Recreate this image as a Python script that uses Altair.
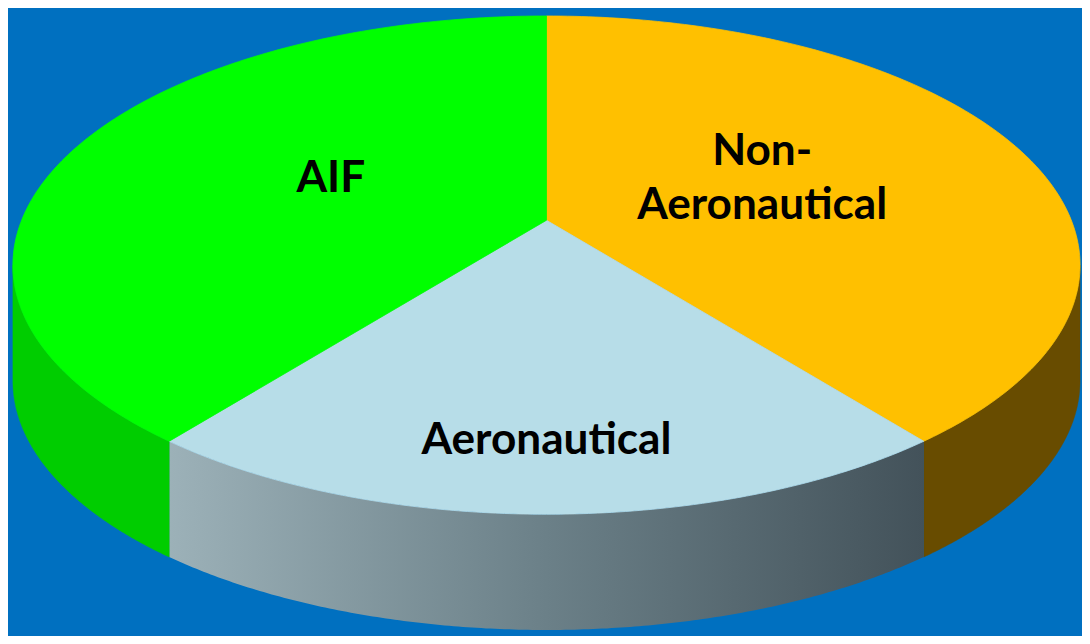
import altair as alt
import pandas as pd
import numpy as np

# ---- data (shares in %) ----
categories = ["Non-Aeronautical", "Aeronautical", "AIF"]
labels = ["Non-\nAeronautical", "Aeronautical", "AIF"]
shares = [37.5, 25.0, 37.5]
top_colors = ["#FFC000", "#B7DDE8", "#00FF00"]

# ---- style / geometry constants ----
W, H = 1074, 628            # plot size (px)
A_PX, B_PX = 544, 254       # ellipse semi-axes (px)
CX_PX, CY_PX = 549, 256     # ellipse centre inside plot (px)
DEPTH = 118 / B_PX          # wall height in ellipse units
VX, VY = 0.0, 0.18          # apex of slices (perspective lift)
LABEL_D = 224               # label distance from apex (px)
LINE_H = 55
N = 181

xs = alt.Scale(domain=[-CX_PX / A_PX, (W - CX_PX) / A_PX], range=[0, W], nice=False, zero=False)
ys = alt.Scale(domain=[-(H - CY_PX) / B_PX, CY_PX / B_PX], range=[H, 0], nice=False, zero=False)

ends = list(np.cumsum(shares))
starts = [e - s for e, s in zip(ends, shares)]

# parametric table (t runs along each slice's rim)
rows = []
for c, s, e in zip(categories, starts, ends):
    for k in range(N + 2):
        vertex = (k == 0) or (k == N + 1)
        rows.append(dict(category=c, start=s, end=e, seq=k, vertex=vertex,
                         t=0.0 if vertex else (k - 1) / (N - 1)))
pie_df = pd.DataFrame(rows)
wall_df = pie_df[~pie_df["vertex"]].copy()
label_df = pd.DataFrame({"category": categories, "label": labels, "start": starts, "end": ends})

cscale = alt.Scale(domain=categories, range=top_colors)

# ---- walls (front half of the rim, pushed down) ----
wall_base = alt.Chart(wall_df).transform_calculate(
    ws="max(datum.start * 3.6, 90)", we="min(datum.end * 3.6, 270)"
).transform_filter("datum.we > datum.ws").transform_calculate(
    ang="(datum.ws + datum.t * (datum.we - datum.ws)) * PI / 180"
).transform_calculate(
    px="sin(datum.ang)", py="cos(datum.ang)", py2=f"cos(datum.ang) - {DEPTH}"
)

def wall(cat, fill):
    return wall_base.transform_filter(alt.datum.category == cat).mark_area(
        fill=fill, stroke=fill if isinstance(fill, str) else None, strokeWidth=0.5
    ).encode(
        x=alt.X("px:Q", scale=xs, axis=None),
        y=alt.Y("py:Q", scale=ys, axis=None),
        y2="py2:Q",
    )

wall_non = wall("Non-Aeronautical", "#684C00")
wall_aero = wall("Aeronautical", alt.Gradient(
    gradient="linear", x1=0, y1=0, x2=1, y2=0,
    stops=[alt.GradientStop(offset=0, color="#9CB1B8"),
           alt.GradientStop(offset=0.5, color="#6B8088"),
           alt.GradientStop(offset=1, color="#43525A")]))
wall_aif = wall("AIF", "#00CD00")

# ---- top face ----
top = alt.Chart(pie_df).transform_calculate(
    ang="2 * PI * (datum.start + datum.t * (datum.end - datum.start)) / 100"
).transform_calculate(
    px=f"datum.vertex ? {VX} : sin(datum.ang)",
    py=f"datum.vertex ? {VY} : cos(datum.ang)",
).mark_line(filled=True, strokeWidth=0.8, interpolate="linear").encode(
    x=alt.X("px:Q", scale=xs, axis=None),
    y=alt.Y("py:Q", scale=ys, axis=None),
    color=alt.Color("category:N", scale=cscale, legend=None),
    stroke=alt.Stroke("category:N", scale=cscale, legend=None),
    order=alt.Order("seq:Q"),
)

# ---- labels ----
text = alt.Chart(label_df).transform_calculate(
    mid="PI * (datum.start + datum.end) / 100"
).transform_calculate(
    dxp=f"sin(datum.mid) * {A_PX}", dyp=f"cos(datum.mid) * {B_PX}",
    nl="length(split(datum.label, '\\n'))",
).transform_calculate(
    nrm="sqrt(datum.dxp * datum.dxp + datum.dyp * datum.dyp)"
).transform_calculate(
    lx=f"{VX} + {LABEL_D} * datum.dxp / datum.nrm / {A_PX}",
    ly=f"{VY} + {LABEL_D} * datum.dyp / datum.nrm / {B_PX} + (datum.nl - 1) * {LINE_H} / 2 / {B_PX}",
).mark_text(
    font="Lato", fontWeight="bold", fontSize=45, color="black",
    lineBreak="\n", align="center", baseline="middle", lineHeight=LINE_H,
).encode(
    x=alt.X("lx:Q", scale=xs, axis=None),
    y=alt.Y("ly:Q", scale=ys, axis=None),
    text="label:N",
)

chart = alt.layer(wall_non, wall_aero, wall_aif, top, text).properties(
    width=W, height=H, background="#0070C0", padding=0
).configure_view(stroke=None)

chart.save("out.html", embed_options={"renderer": "svg", "actions": False})
